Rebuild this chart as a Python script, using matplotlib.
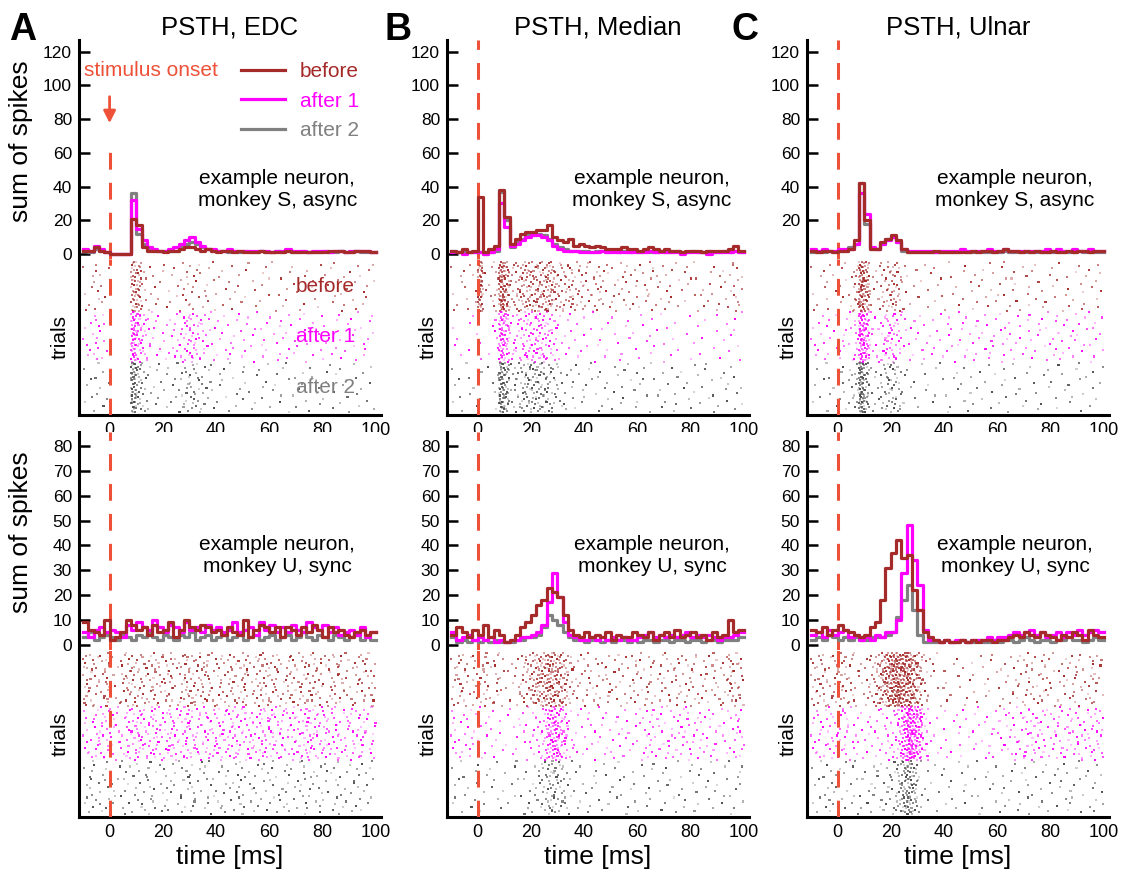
import numpy as np
import matplotlib
matplotlib.use('Agg')
import matplotlib.pyplot as plt
import matplotlib.colors as mcolors

plt.rcParams['font.family'] = ['Liberation Sans', 'DejaVu Sans']

# 2 ms bins from -10 to 100 ms, value = sum of spikes per bin
bin_edges = np.arange(-10, 101, 2)

# --- EDC, monkey S, async
edc_s_before = [2, 2, 4, 2, 1, 0, 0, 0, 0, 21, 17,
                4, 2, 2, 2, 1, 2, 2, 3, 4, 4, 3,
                2, 3, 2, 1, 2, 2, 1, 2, 1, 1, 1,
                2, 1, 1, 1, 1, 2, 1, 1, 1, 1, 1,
                1, 1, 2, 2, 2, 1, 1, 2, 2, 2, 1]
edc_s_after1 = [3, 2, 5, 3, 1, 0, 0, 0, 0, 32, 15,
                8, 4, 3, 2, 2, 3, 4, 6, 8, 10, 7,
                5, 3, 3, 2, 2, 3, 2, 2, 2, 2, 2,
                2, 2, 1, 2, 2, 3, 2, 2, 2, 1, 2,
                2, 2, 1, 2, 2, 1, 2, 2, 2, 2, 1]
edc_s_after2 = [2, 1, 3, 2, 1, 0, 0, 0, 0, 36, 12,
                6, 3, 2, 2, 2, 2, 2, 4, 6, 7, 6,
                4, 3, 2, 2, 2, 1, 2, 1, 2, 1, 1,
                2, 1, 1, 2, 1, 2, 1, 1, 2, 1, 1,
                1, 2, 1, 1, 2, 1, 1, 2, 1, 1, 1]

# --- Median, monkey S, async
med_s_before = [2, 1, 3, 1, 2, 34, 1, 3, 5, 38, 22,
                6, 9, 12, 13, 13, 14, 14, 17, 10, 8, 7,
                9, 5, 6, 5, 4, 5, 4, 3, 3, 3, 4,
                3, 3, 2, 3, 4, 3, 2, 3, 2, 2, 1,
                2, 2, 2, 1, 2, 2, 2, 2, 3, 5, 2]
med_s_after1 = [1, 1, 0, 1, 1, 1, 0, 1, 3, 30, 16,
                5, 6, 8, 10, 11, 11, 10, 8, 5, 3, 2,
                2, 2, 1, 1, 1, 1, 2, 1, 1, 1, 1,
                1, 1, 1, 1, 2, 1, 1, 1, 1, 1, 0,
                1, 1, 1, 1, 0, 1, 1, 1, 1, 2, 1]
med_s_after2 = [2, 1, 1, 1, 1, 1, 0, 1, 2, 37, 20,
                4, 7, 9, 11, 12, 12, 11, 9, 6, 4, 3,
                2, 2, 2, 2, 1, 2, 2, 1, 2, 1, 2,
                1, 2, 1, 2, 1, 1, 2, 1, 1, 2, 1,
                1, 2, 1, 1, 2, 1, 1, 2, 1, 2, 1]

# --- Ulnar, monkey S, async
uln_s_before = [2, 1, 2, 2, 1, 2, 2, 3, 8, 42, 20,
                3, 3, 7, 9, 11, 8, 3, 1, 1, 1, 1,
                1, 2, 1, 1, 1, 1, 1, 1, 2, 1, 2,
                2, 1, 2, 3, 2, 2, 1, 2, 1, 2, 1,
                1, 2, 1, 1, 2, 1, 2, 2, 1, 2, 2]
uln_s_after1 = [3, 2, 3, 2, 2, 3, 3, 3, 6, 36, 24,
                4, 3, 6, 8, 10, 7, 3, 2, 2, 2, 2,
                2, 1, 2, 2, 2, 2, 3, 2, 2, 2, 2,
                3, 2, 2, 3, 2, 2, 2, 2, 2, 2, 2,
                3, 2, 3, 2, 2, 3, 2, 2, 3, 2, 2]
uln_s_after2 = [1, 1, 1, 2, 1, 2, 2, 4, 6, 42, 18,
                3, 3, 6, 9, 10, 7, 2, 1, 1, 1, 1,
                1, 1, 1, 1, 1, 1, 2, 1, 1, 1, 1,
                1, 1, 1, 2, 1, 1, 1, 1, 1, 1, 1,
                1, 1, 1, 1, 1, 1, 2, 1, 1, 1, 1]

# --- EDC, monkey U, sync
edc_u_before = [9, 6, 5, 4, 10, 2, 3, 5, 10, 8, 6,
                7, 4, 8, 5, 6, 9, 3, 6, 10, 7, 6,
                8, 7, 5, 6, 4, 7, 5, 4, 10, 3, 6,
                8, 7, 5, 7, 3, 7, 6, 4, 7, 5, 8,
                6, 3, 7, 5, 6, 4, 3, 5, 6, 4, 5]
edc_u_after1 = [5, 3, 6, 7, 5, 6, 5, 3, 8, 6, 9,
                7, 6, 10, 7, 5, 8, 7, 5, 9, 6, 7,
                5, 8, 6, 7, 5, 6, 9, 5, 6, 7, 4,
                9, 6, 8, 5, 7, 5, 8, 6, 5, 9, 7,
                6, 8, 5, 7, 4, 5, 6, 4, 7, 3, 5]
edc_u_after2 = [3, 5, 2, 3, 4, 3, 2, 4, 3, 2, 4,
                3, 5, 3, 2, 4, 3, 2, 4, 3, 5, 2,
                3, 4, 2, 3, 4, 2, 3, 5, 2, 3, 4,
                2, 3, 4, 2, 3, 4, 2, 3, 5, 3, 2,
                4, 3, 2, 4, 3, 2, 3, 4, 2, 3, 2]

# --- Median, monkey U, sync
med_u_before = [4, 7, 5, 3, 6, 4, 8, 3, 6, 4, 1,
                2, 4, 7, 9, 12, 16, 18, 23, 21, 19, 12,
                6, 4, 3, 5, 3, 4, 3, 5, 2, 4, 3,
                3, 5, 4, 3, 5, 2, 4, 5, 3, 6, 3,
                4, 5, 3, 4, 2, 5, 3, 4, 10, 5, 6]
med_u_after1 = [5, 2, 3, 4, 2, 3, 2, 3, 1, 2, 1,
                2, 2, 3, 3, 4, 5, 8, 17, 29, 19, 9,
                4, 3, 2, 2, 3, 2, 3, 2, 3, 2, 3,
                2, 2, 3, 4, 5, 3, 4, 3, 4, 3, 4,
                5, 3, 4, 3, 4, 3, 2, 3, 3, 4, 5]
med_u_after2 = [3, 1, 2, 1, 2, 1, 2, 1, 2, 1, 1,
                1, 2, 2, 3, 3, 4, 7, 12, 10, 8, 5,
                3, 2, 2, 1, 2, 2, 1, 2, 1, 2, 2,
                1, 2, 1, 2, 2, 1, 2, 2, 1, 2, 2,
                1, 2, 2, 1, 2, 2, 1, 2, 2, 2, 3]

# --- Ulnar, monkey U, sync
uln_u_before = [6, 5, 7, 4, 6, 8, 6, 5, 4, 3, 4,
                7, 9, 18, 31, 37, 42, 35, 36, 22, 14, 5,
                3, 2, 1, 2, 1, 1, 2, 1, 2, 1, 2,
                2, 1, 2, 2, 3, 4, 3, 5, 4, 3, 5,
                4, 3, 2, 4, 3, 5, 4, 2, 6, 4, 3]
uln_u_after1 = [4, 5, 3, 6, 4, 5, 6, 3, 4, 2, 3,
                2, 4, 3, 5, 5, 10, 29, 48, 34, 24, 6,
                2, 2, 1, 2, 1, 2, 2, 1, 2, 2, 2,
                3, 2, 3, 3, 4, 5, 4, 5, 6, 4, 5,
                3, 4, 5, 3, 5, 4, 6, 4, 5, 6, 5]
uln_u_after2 = [2, 3, 2, 4, 3, 2, 3, 2, 3, 2, 2,
                3, 3, 3, 4, 5, 11, 18, 24, 14, 4, 1,
                1, 1, 1, 2, 1, 1, 2, 1, 1, 2, 1,
                1, 2, 1, 2, 2, 1, 2, 3, 2, 1, 2,
                2, 1, 2, 2, 3, 2, 2, 1, 2, 3, 2]

titles = ['PSTH, EDC', 'PSTH, Median', 'PSTH, Ulnar']
letters = ['A', 'B', 'C']
notes = ['example neuron,\nmonkey S, async', 'example neuron,\nmonkey U, sync']
labels = ['before', 'after 1', 'after 2']

c_before = '#A52A2A'
c_after1 = '#FF00FF'
c_after2 = '#808080'
raster_cols = ['#A52A2A', '#FF00FF', '#4d4d4d']
c_stim = '#EE5038'
dash = (0, (5.5, 4.3))

panel_data = [
    [(edc_s_before, edc_s_after1, edc_s_after2),
     (med_s_before, med_s_after1, med_s_after2),
     (uln_s_before, uln_s_after1, uln_s_after2)],
    [(edc_u_before, edc_u_after1, edc_u_after2),
     (med_u_before, med_u_after1, med_u_after2),
     (uln_u_before, uln_u_after1, uln_u_after2)],
]

W, H = 1130, 875
fig = plt.figure(figsize=(W / 100, H / 100), dpi=100)

col_left = [79, 447, 807]
col_w = 302
# (psth top, psth bottom / raster top, raster bottom) in pixels
row_pix = [(40, 259, 415), (432, 650, 817)]
psth_ylim = [(-3, 127), (-2.2, 85.7)]
psth_yticks = [np.arange(0, 121, 20), np.arange(0, 81, 10)]
note_x = [63, 65.5, 66.7]
note_y = [38, 36]
n_trials = 40


def halton(n, base):
    f, r = 1.0, 0.0
    while n > 0:
        f /= base
        r += f * (n % base)
        n //= base
    return r


def raster(ax, series):
    # one dot per spike: the PSTH counts spread over the trials of each block
    for b, (vals, col) in enumerate(zip(series, raster_cols)):
        block = 2 - b
        xs, ys, al = [], [], []
        j = 7 + 101 * b
        for i, v in enumerate(vals):
            for k in range(int(round(1.5 * v))):
                j += 1
                xs.append(bin_edges[i] + 2 * halton(j, 2))
                row = int(halton(j, 3) * n_trials)
                ys.append(block + (row + 0.5) / n_trials)
                al.append(0.2 + 0.8 * halton(j, 5))
        rgba = np.array([mcolors.to_rgba(col, a) for a in al])
        ax.scatter(xs, ys, s=2.2, c=rgba, marker='s', linewidths=0)


for r in range(2):
    top, mid, bot = row_pix[r]
    for c in range(3):
        before, after1, after2 = panel_data[r][c]
        x0 = col_left[c] / W
        ax = fig.add_axes([x0, 1 - mid / H, col_w / W, (mid - top) / H])
        axr = fig.add_axes([x0, 1 - bot / H, col_w / W, (bot - mid) / H], sharex=ax)

        # PSTH
        hs = {}
        for vals, col, lab in [(after2, c_after2, 'after 2'), (after1, c_after1, 'after 1'),
                               (before, c_before, 'before')]:
            hs[lab], = ax.plot(bin_edges, np.append(vals, vals[-1]), drawstyle='steps-post',
                               color=col, lw=2.3, label=lab)
        ax.set_xlim(-11.5, 102)
        ax.set_ylim(*psth_ylim[r])
        yt = psth_yticks[r]
        if r == 0 and c == 2:
            yt = yt[1:]
        ax.set_yticks(yt)
        for s in ['top', 'right', 'bottom']:
            ax.spines[s].set_visible(False)
        ax.spines['left'].set_linewidth(2.2)
        ax.tick_params(axis='y', direction='in', length=8, width=1.8, labelsize=12.5, pad=5)
        ax.tick_params(axis='x', bottom=False, labelbottom=False)

        ylo, yhi = psth_ylim[r]
        if r == 0 and c == 0:
            ax.axvline(0, ymax=(66 - ylo) / (yhi - ylo), color=c_stim, lw=2.2, ls=dash, zorder=0)
        else:
            ax.axvline(0, color=c_stim, lw=2.2, ls=dash, zorder=0)

        ax.text(note_x[c], note_y[r], notes[r], ha='center', va='center', fontsize=15)

        if r == 0:
            ax.set_title(titles[c], fontsize=18.5, pad=4)
            fig.text([23, 398, 745][c] / W, 1 - 40 / H, letters[c], fontsize=27,
                     fontweight='bold', ha='center', va='baseline')

        if c == 0:
            ax.set_ylabel('sum of spikes', fontsize=19)
            ax.yaxis.set_label_coords(-0.152, 0.54)

        if r == 0 and c == 0:
            ax.text(15.7, 109, 'stimulus onset', color=c_stim, fontsize=15, ha='center', va='center')
            ax.annotate('', xy=(0, 76), xytext=(0, 95),
                        arrowprops=dict(arrowstyle='-|>', color=c_stim, lw=2, mutation_scale=18))
            ax.legend(handles=[hs['before'], hs['after 1'], hs['after 2']], frameon=False,
                      fontsize=15, labelcolor='linecolor', loc='upper right',
                      bbox_to_anchor=(0.927, 0.898), handlelength=2.1, handletextpad=0.7,
                      labelspacing=0.5, borderpad=0, borderaxespad=0)

        # raster
        raster(axr, [before, after1, after2])
        axr.axvline(0, color=c_stim, lw=2.2, ls=dash, zorder=3)
        axr.set_ylim(-0.05, 3.05)
        axr.set_yticks([])
        for s in ['top', 'right']:
            axr.spines[s].set_visible(False)
        axr.spines['left'].set_linewidth(2.2)
        axr.spines['bottom'].set_linewidth(2.2)
        axr.set_xticks(np.arange(0, 101, 20))
        axr.tick_params(axis='x', length=0, labelsize=13, pad=5)
        axr.set_ylabel('trials', fontsize=15)
        axr.yaxis.set_label_coords(-0.03, 0.5)
        if r == 1:
            axr.set_xlabel('time [ms]', fontsize=19, labelpad=3)

        if r == 0 and c == 0:
            for yb, lab, col in [(2.5, 'before', c_before), (1.5, 'after 1', c_after1),
                                 (0.5, 'after 2', c_after2)]:
                axr.text(81, yb, lab, color=col, fontsize=15, ha='center', va='center')

fig.savefig('out.png', dpi=100)
